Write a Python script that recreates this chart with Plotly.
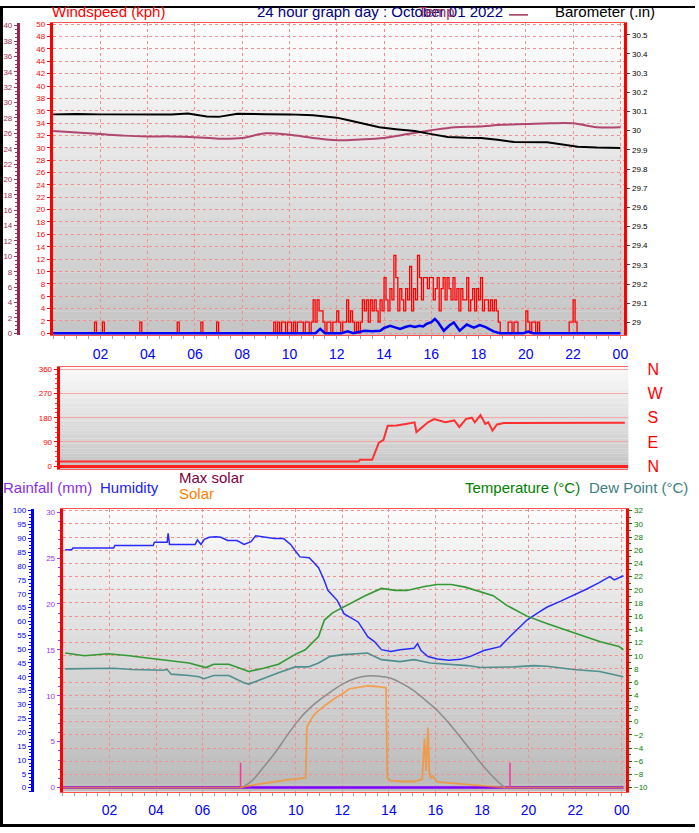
import plotly.graph_objects as go

W, H = 699, 833

# ---------------- top panel: wind speed / barometer ----------------
# gust speed (kph), one value every 5 minutes from 00:00 to 24:00
gust = [
    0, 0, 0, 0, 0, 0, 0, 0, 0, 0, 0, 0,                              # 00
    0, 0, 0, 0, 0, 0, 0, 0, 0, 1.8, 0, 0,                            # 01
    0, 1.8, 0, 0, 0, 0, 0, 0, 0, 0, 0, 0,                            # 02
    0, 0, 0, 0, 0, 0, 0, 0, 1.8, 0, 0, 0,                            # 03
    0, 0, 0, 0, 0, 0, 0, 0, 0, 0, 0, 0,                              # 04
    0, 0, 0, 1.8, 0, 0, 0, 0, 0, 0, 0, 0,                            # 05
    0, 0, 0, 1.8, 0, 0, 0, 0, 0, 0, 0, 1.8,                          # 06
    0, 0, 0, 0, 0, 0, 0, 0, 0, 0, 0, 0,                              # 07
    0, 0, 0, 0, 0, 0, 0, 0, 0, 0, 0, 0,                              # 08
    0, 0, 0, 0, 1.8, 0, 1.8, 0, 1.8, 1.8, 0, 1.8,                    # 09
    1.8, 0, 1.8, 0, 1.8, 1.8, 1.8, 0, 1.8, 1.8, 0, 1.8,              # 10
    5.4, 1.8, 5.4, 3.6, 3.6, 1.8, 0, 1.8, 1.8, 0, 1.8, 1.8,          # 11
    3.6, 1.8, 0, 1.8, 1.8, 5.4, 1.8, 3.6, 1.8, 0, 1.8, 0,            # 12
    1.8, 5.4, 3.6, 5.4, 1.8, 5.4, 3.6, 5.4, 3.6, 1.8, 5.4, 3.6,      # 13
    9.0, 5.4, 3.6, 7.2, 5.4, 12.6, 9.0, 3.6, 7.2, 5.4, 3.6, 7.2,     # 14
    5.4, 10.8, 3.6, 7.2, 5.4, 12.6, 9.0, 5.4, 9.0, 9.0, 7.2, 9.0,    # 15
    9.0, 5.4, 7.2, 9.0, 3.6, 7.2, 9.0, 5.4, 9.0, 7.2, 5.4, 9.0,      # 16
    5.4, 7.2, 3.6, 7.2, 5.4, 5.4, 9.0, 3.6, 5.4, 7.2, 3.6, 7.2,      # 17
    5.4, 9.0, 3.6, 5.4, 5.4, 3.6, 5.4, 3.6, 5.4, 3.6, 1.8, 0,        # 18
    0, 0, 0, 1.8, 1.8, 0, 1.8, 1.8, 0, 0, 0, 0,                      # 19
    3.6, 1.8, 0, 1.8, 1.8, 0, 1.8, 0, 0, 0, 0, 0,                    # 20
    0, 0, 0, 0, 0, 0, 0, 0, 0, 0, 1.8, 1.8,                          # 21
    5.4, 1.8, 0, 0, 0, 0, 0, 0, 0, 0, 0, 0,                          # 22
    0, 0, 0, 0, 0, 0, 0, 0, 0, 0, 0, 0,                              # 23
    0,
]
gust_time = [i / 12 for i in range(len(gust))]

avg_time = [0, 11.1, 11.3, 11.5, 12.2, 12.46, 12.7, 13.0, 13.17, 13.5, 13.84, 14.0,
            14.26, 14.5, 14.68, 14.9, 15.1, 15.3, 15.5, 15.65, 15.8, 16.0, 16.15, 16.3,
            16.53, 16.75, 16.95, 17.2, 17.5, 17.8, 18.05, 18.3, 18.63, 18.9, 19.9, 20.1,
            20.3, 24.0]
avg_speed = [0, 0, 0.7, 0, 0, 0.3, 0, 0.2, 0.4, 0.3, 0.4, 0.85,
             1.2, 0.9, 0.7, 1.0, 1.2, 1.0, 1.2, 1.1, 1.5, 1.8, 2.3, 1.7,
             0.4, 1.2, 1.75, 0.4, 1.4, 0.9, 1.3, 1.0, 0.3, 0, 0, 0.25,
             0, 0]

baro_time = [0, 1, 2, 3, 4, 5, 5.7, 6.5, 7.0, 7.8, 9, 10, 11, 11.6, 12.0, 12.5, 13.0,
             13.8, 14.5, 15.3, 16.0, 16.7, 17.5, 18.1, 18.8, 19.5, 20.9, 21.5, 22.2,
             23.0, 23.7, 24.0]
baro = [30.085, 30.087, 30.085, 30.085, 30.083, 30.085, 30.09, 30.074, 30.072, 30.088,
        30.086, 30.085, 30.080, 30.075, 30.068, 30.054, 30.04, 30.018, 30.008, 29.998,
        29.982, 29.967, 29.963, 29.962, 29.952, 29.941, 29.94, 29.93, 29.916, 29.912,
        29.91, 29.91]

temp2_time = list(range(25))
temp2 = [26.3, 26.1, 25.9, 25.7, 25.6, 25.6, 25.5, 25.3, 25.4, 26.0, 25.8, 25.4, 25.1,
         25.2, 25.4, 25.9, 26.4, 26.8, 26.9, 27.1, 27.2, 27.3, 27.3, 26.8, 26.8]

# ---------------- middle panel: wind direction ----------------
dir_time = [0, 12.7, 12.75, 13.27, 13.55, 13.75, 13.93, 14.3, 14.7, 15.07, 15.15, 15.45,
            15.64, 15.9, 16.38, 16.76, 16.97, 17.25, 17.5, 17.63, 17.87, 18.07, 18.2,
            18.38, 18.57, 18.86, 24.0]
direction = [18, 18, 24, 24, 87, 98, 150, 151, 157, 163, 127, 150,
             163, 175, 163, 170, 145, 175, 180, 163, 190, 157, 163,
             132, 155, 160, 161]

# ---------------- bottom panel: temperature / humidity / solar ----------------
hum_time = [0.10, 0.38, 0.43, 2.18, 2.23, 3.88, 3.93, 4.48, 4.52, 4.58, 5.08, 5.68, 5.78,
            5.93, 6.08, 6.28, 6.58, 6.78, 7.08, 7.48, 7.78, 8.08, 8.28, 8.68, 9.08, 9.48,
            9.78, 9.98, 10.18, 10.58, 10.98, 11.23, 11.38, 11.78, 12.08, 12.68, 13.10,
            13.38, 13.68, 14.08, 14.48, 15.08, 15.23, 15.38, 15.68, 16.08, 16.58, 17.08,
            17.48, 18.08, 18.48, 18.78, 19.18, 19.58, 19.93, 20.38, 20.78, 21.38, 21.93,
            22.48, 23.03, 23.48, 23.68, 24.07]
humidity = [85.9, 85.9, 86.5, 86.5, 87.4, 87.4, 88.6, 88.6, 91.8, 87.8, 87.8, 87.8, 89.4,
            87.8, 89.6, 90.4, 90.6, 90.4, 89.2, 89.2, 87.8, 88.8, 90.9, 90.4, 89.9, 89.9,
            87.8, 85.5, 83.3, 83.0, 79.4, 74.7, 71.2, 67.6, 62.7, 59.8, 54.4,
            52.7, 49.8, 49.1, 49.8, 50.3, 52.0, 49.5, 47.3, 46.4, 46.0, 46.3,
            47.3, 49.5, 50.3, 50.9, 54.4, 57.5, 60.5, 63.0, 65.1, 67.3, 69.4,
            71.6, 74.0, 76.2, 75.0, 76.5]

temp_time = [0.10, 0.93, 1.92, 2.86, 3.71, 4.56, 5.42, 6.14, 6.48, 7.13, 7.77, 7.98, 8.62,
             9.26, 9.98, 10.41, 10.98, 11.23, 11.58, 12.08, 12.25, 12.98, 13.68, 14.28,
             14.78, 15.53, 16.08, 16.68, 17.28, 17.93, 18.48, 19.08, 19.93, 20.78, 21.98,
             23.08, 23.88, 24.07]
temperature = [10.4, 10.0, 10.3, 10.0, 9.6, 9.3, 8.9, 8.2, 8.7, 8.7, 7.9, 7.6, 8.1,
               8.7, 10.2, 10.9, 12.9, 15.4, 16.5, 17.4, 17.7, 19.1, 20.2, 19.9,
               19.9, 20.5, 20.8, 20.8, 20.4, 19.7, 19.1, 17.6, 16.0, 14.9, 13.4,
               12.1, 11.4, 10.9]

dew_time = [0.10, 1.08, 2.18, 2.98, 4.28, 4.48, 4.65, 5.42, 5.84, 6.06, 6.48, 7.13, 7.77,
            7.98, 8.62, 9.26, 9.98, 10.54, 10.98, 11.48, 12.12, 12.28, 13.08, 13.68, 14.48,
            15.08, 15.78, 16.48, 17.38, 17.93, 19.38, 20.23, 20.78, 21.93, 23.05, 24.07]
dew_point = [8.0, 8.0, 8.1, 7.9, 7.8, 7.9, 7.2, 7.0, 6.8, 6.5, 7.0, 7.0, 5.9,
             5.7, 6.6, 7.4, 8.3, 8.3, 8.9, 9.9, 10.2, 10.2, 10.4, 9.4, 9.1,
             9.4, 8.9, 8.7, 8.5, 8.2, 8.3, 8.5, 8.4, 7.9, 7.6, 6.8]

maxsolar_time = [7.63, 8.08, 8.58, 9.08, 9.58, 10.08, 10.58, 11.08, 11.58, 12.08, 12.58,
                 13.08, 13.58, 14.08, 14.58, 15.08, 15.58, 16.08, 16.58, 17.08, 17.58,
                 18.08, 18.58, 18.98]
max_solar = [0, 21, 70, 122, 182, 240, 285, 320, 350, 377, 395,
             403, 402, 395, 375, 349, 315, 278, 232, 181, 128,
             75, 30, 0]

solar_time = [0, 7.63, 8.08, 8.58, 9.08, 9.58, 10.08, 10.43, 10.48, 10.58, 10.78, 10.98,
              11.28, 11.53, 11.78, 12.08, 12.28, 12.68, 13.08, 13.48, 13.88, 13.93, 14.08,
              14.58, 15.08, 15.23, 15.43, 15.53, 15.6, 15.68, 15.74, 15.8, 15.88, 15.98,
              16.08, 16.58, 17.08, 17.58, 18.08, 18.58, 18.98, 24.07]
solar = [0, 0, 8, 15, 22, 27, 32, 35, 217, 235, 262, 278,
         298, 313, 328, 342, 356, 362, 367, 365, 360, 35, 25,
         22, 22, 25, 30, 178, 60, 217, 50, 35, 42, 30,
         21, 17, 14, 10, 7, 3, 0, 0]

rain_time = [0, 24.07]
rainfall = [0, 0]

sun_events = [7.63, 19.2]   # sunrise, sunset markers
marker_height = 2.7         # mm on the rain axis

hour_ticks = list(range(2, 25, 2))
hour_labels = ["%02d" % (h % 24) for h in hour_ticks]

FONT = "Liberation Sans, Arial, sans-serif"
GRID = "#f09090"


def xd(a, b):
    return [a / W, b / W]


def yd(top, bottom):
    return [1 - bottom / H, 1 - top / H]


fig = go.Figure()

# top panel traces
fig.add_trace(go.Scatter(x=gust_time, y=gust, mode="lines", line_shape="hv",
                         line=dict(color="#ff0000", width=1.3), xaxis="x", yaxis="y"))
fig.add_trace(go.Scatter(x=avg_time, y=avg_speed, mode="lines",
                         line=dict(color="#0000ff", width=2.5), xaxis="x", yaxis="y"))
fig.add_trace(go.Scatter(x=temp2_time, y=temp2, mode="lines", line_shape="spline",
                         line=dict(color="#b0456e", width=2), xaxis="x", yaxis="y2"))
fig.add_trace(go.Scatter(x=baro_time, y=baro, mode="lines",
                         line=dict(color="#000000", width=2), xaxis="x", yaxis="y3"))

# middle panel
fig.add_trace(go.Scatter(x=dir_time, y=direction, mode="lines",
                         line=dict(color="#ff3030", width=2), xaxis="x2", yaxis="y4"))
fig.add_trace(go.Scatter(x=[0], y=[0], mode="none", hoverinfo="skip",
                         xaxis="x2", yaxis="y5"))

# bottom panel
fig.add_trace(go.Scatter(x=rain_time, y=rainfall, mode="lines",
                         line=dict(color="#8000ff", width=2.5), xaxis="x3", yaxis="y6"))
sx, sy = [], []
for t in sun_events:
    sx += [t, t, None]
    sy += [0, marker_height, None]
fig.add_trace(go.Scatter(x=sx, y=sy, mode="lines",
                         line=dict(color="#ff3399", width=1.5), xaxis="x3", yaxis="y6"))
fig.add_trace(go.Scatter(x=hum_time, y=humidity, mode="lines",
                         line=dict(color="#2a2aff", width=1.5), xaxis="x3", yaxis="y7"))
fig.add_trace(go.Scatter(x=dew_time, y=dew_point, mode="lines",
                         line=dict(color="#4f8f8f", width=1.6), xaxis="x3", yaxis="y8"))
fig.add_trace(go.Scatter(x=temp_time, y=temperature, mode="lines",
                         line=dict(color="#339933", width=1.6), xaxis="x3", yaxis="y8"))
fig.add_trace(go.Scatter(x=maxsolar_time, y=max_solar, mode="lines", line_shape="spline",
                         line=dict(color="#8c8c8c", width=1.5), xaxis="x3", yaxis="y9"))
fig.add_trace(go.Scatter(x=solar_time, y=solar, mode="lines", opacity=0.7,
                         line=dict(color="#ff8c1a", width=1.8), xaxis="x3", yaxis="y9"))

# background gradients
shapes = []
for xr, yr, top, bottom in [("x", "y", 255, 196), ("x2", "y4", 250, 196), ("x3", "y6", 252, 186)]:
    n = 40
    for i in range(n):
        c = round(top + (bottom - top) * (i + 0.5) / n)
        shapes.append(dict(type="rect", xref=xr + " domain", yref=yr + " domain",
                           x0=0, x1=1, y0=1 - (i + 1) / n, y1=1 - i / n + 0.001,
                           fillcolor="rgb(%d,%d,%d)" % (c, c, c), line_width=0,
                           layer="below"))
# black frame on left, top, bottom
for x0, x1, y0, y1 in [(0, 3 / W, 0, 1), (0, 1, 0, 3 / H), (0, 1, 1 - 2 / H, 1)]:
    shapes.append(dict(type="rect", xref="paper", yref="paper", x0=x0, x1=x1, y0=y0, y1=y1,
                       fillcolor="black", line_width=0, layer="above"))
shapes.append(dict(type="line", xref="paper", yref="paper", x0=512 / W, x1=531 / W,
                   y0=1 - 9 / H, y1=1 - 9 / H, line=dict(color="#a0305a", width=1.5)))


def label(text, x, y, color, size=15):
    return dict(text=text, x=x / W, y=1 - y / H, xref="paper", yref="paper",
                xanchor="left", yanchor="middle", showarrow=False,
                font=dict(family=FONT, size=size, color=color))


annotations = [
    label("Windspeed (kph)", 50, 6, "#ff0000"),
    label("24 hour graph day : October 01 2022", 256, 6, "#000080"),
    label("Temp", 418, 6, "#a0305a"),
    label("Barometer (.in)", 556, 6, "#000000"),
    label("Rainfall (mm)", 1, 489, "#8a2be2"),
    label("Humidity", 99, 489, "#2020ff"),
    label("Max solar", 178, 478, "#800040"),
    label("Solar", 178, 495, "#ff8000"),
    label("Temperature (°C)", 466, 489, "#008000"),
    label("Dew Point (°C)", 590, 489, "#408080"),
]

small = lambda c: dict(family=FONT, size=8, color=c)
minor_y = lambda d, c: dict(dtick=d, ticks="outside", ticklen=2, tickcolor=c, showgrid=False)
time_axis = dict(tickvals=hour_ticks, ticktext=hour_labels, ticks="",
                 tickfont=dict(family=FONT, size=14, color="#0000ff"),
                 showgrid=True, gridcolor=GRID, griddash="dot", zeroline=False,
                 showline=True, linecolor="#ff5050", linewidth=1, mirror=True,
                 minor=dict(tickmode="linear", tick0=0, dtick=0.5, ticks="outside",
                            ticklen=3, tickcolor="#a0a0a0", showgrid=False),
                 ticklabelstandoff=6)

fig.update_layout(
    width=W, height=H, margin=dict(l=0, r=0, t=0, b=0, pad=0), autosize=False,
    paper_bgcolor="white", plot_bgcolor="white", showlegend=False,
    shapes=shapes, annotations=annotations,
    xaxis=dict(time_axis, domain=xd(53, 628), range=[-0.02, 24.17], anchor="y"),
    yaxis=dict(domain=yd(17, 334), range=[-0.32, 50.24], anchor="x", tick0=0, dtick=2,
               tickfont=small("#ff0000"), ticks="outside", ticklen=3, tickcolor="#ff0000",
               showgrid=True, gridcolor=GRID, griddash="dot", zeroline=False,
               showline=True, linecolor="#ff0000", linewidth=3),
    yaxis2=dict(overlaying="y", anchor="free", position=18 / W, side="left",
                range=[-0.256, 40.38], tick0=0, dtick=2, tickfont=small("#a0305a"),
                ticks="outside", ticklen=3, tickcolor="#a0305a",
                minor=minor_y(0.5, "#a0305a"), showgrid=False, zeroline=False,
                showline=True, linecolor="#a0204a", linewidth=3),
    yaxis3=dict(overlaying="y", anchor="x", side="right", range=[28.933, 30.563],
                tick0=29, dtick=0.1, tickfont=small("#000000"), ticks="outside",
                ticklen=3, tickcolor="#404040", showgrid=False, zeroline=False,
                showline=True, linecolor="#ff0000", linewidth=3),
    xaxis2=dict(domain=xd(60, 632), range=[0, 24.15], anchor="y4", showticklabels=False,
                ticks="", showgrid=False, zeroline=False, showline=True,
                linecolor="#ff6060", linewidth=1, mirror=True),
    yaxis4=dict(domain=yd(366, 470), range=[-11, 369.1], anchor="x2",
                tickvals=[0, 90, 180, 270, 360], tickfont=small("#ff0000"),
                ticks="outside", ticklen=3, tickcolor="#ff0000",
                minor=minor_y(18, "#ff4040"), showgrid=True, gridcolor="#f4a8a8",
                zeroline=True, zerolinecolor="#ff2020", zerolinewidth=2.5,
                showline=True, linecolor="#ff0000", linewidth=3),
    yaxis5=dict(overlaying="y4", anchor="x2", side="right", range=[-11, 369.1],
                tickvals=[0, 90, 180, 270, 360], ticktext=["N", "E", "S", "W", "N"],
                tickfont=dict(family=FONT, size=16, color="#ff0000"), ticks="",
                showgrid=False, zeroline=False, showline=False, ticklabelstandoff=18),
    xaxis3=dict(time_axis, domain=xd(63, 630), range=[-0.01, 24.2], anchor="y6"),
    yaxis6=dict(domain=yd(510, 797), range=[-0.43, 30.38], anchor="x3", tick0=0, dtick=5,
                tickfont=small("#9933ff"), ticks="outside", ticklen=3, tickcolor="#9933ff",
                minor=minor_y(1, "#9933ff"), showgrid=False, zeroline=False,
                showline=True, linecolor="#ff0000", linewidth=3),
    yaxis7=dict(overlaying="y6", anchor="free", position=32 / W, side="left",
                range=[-1.42, 100.71], tick0=0, dtick=5, tickfont=small("#0000ff"),
                ticks="outside", ticklen=3, tickcolor="#0000ff",
                minor=minor_y(1.25, "#0000ff"), showgrid=False, zeroline=False,
                showline=True, linecolor="#0000ff", linewidth=3),
    yaxis8=dict(overlaying="y6", anchor="x3", side="right", range=[-10.6, 32.3],
                tick0=0, dtick=2, tickfont=small("#008000"), ticks="outside", ticklen=3,
                tickcolor="#008000", minor=minor_y(1, "#008000"),
                showgrid=True, gridcolor=GRID, griddash="dot", zeroline=False,
                showline=True, linecolor="#ff0000", linewidth=3),
    yaxis9=dict(overlaying="y6", anchor="x3", range=[-14.2, 1007], visible=False),
)

# the page body has a default margin; remove it so the figure fills the window
fig.write_html("out.html", config={"displayModeBar": False},
               post_script="document.body.style.margin='0px';")
